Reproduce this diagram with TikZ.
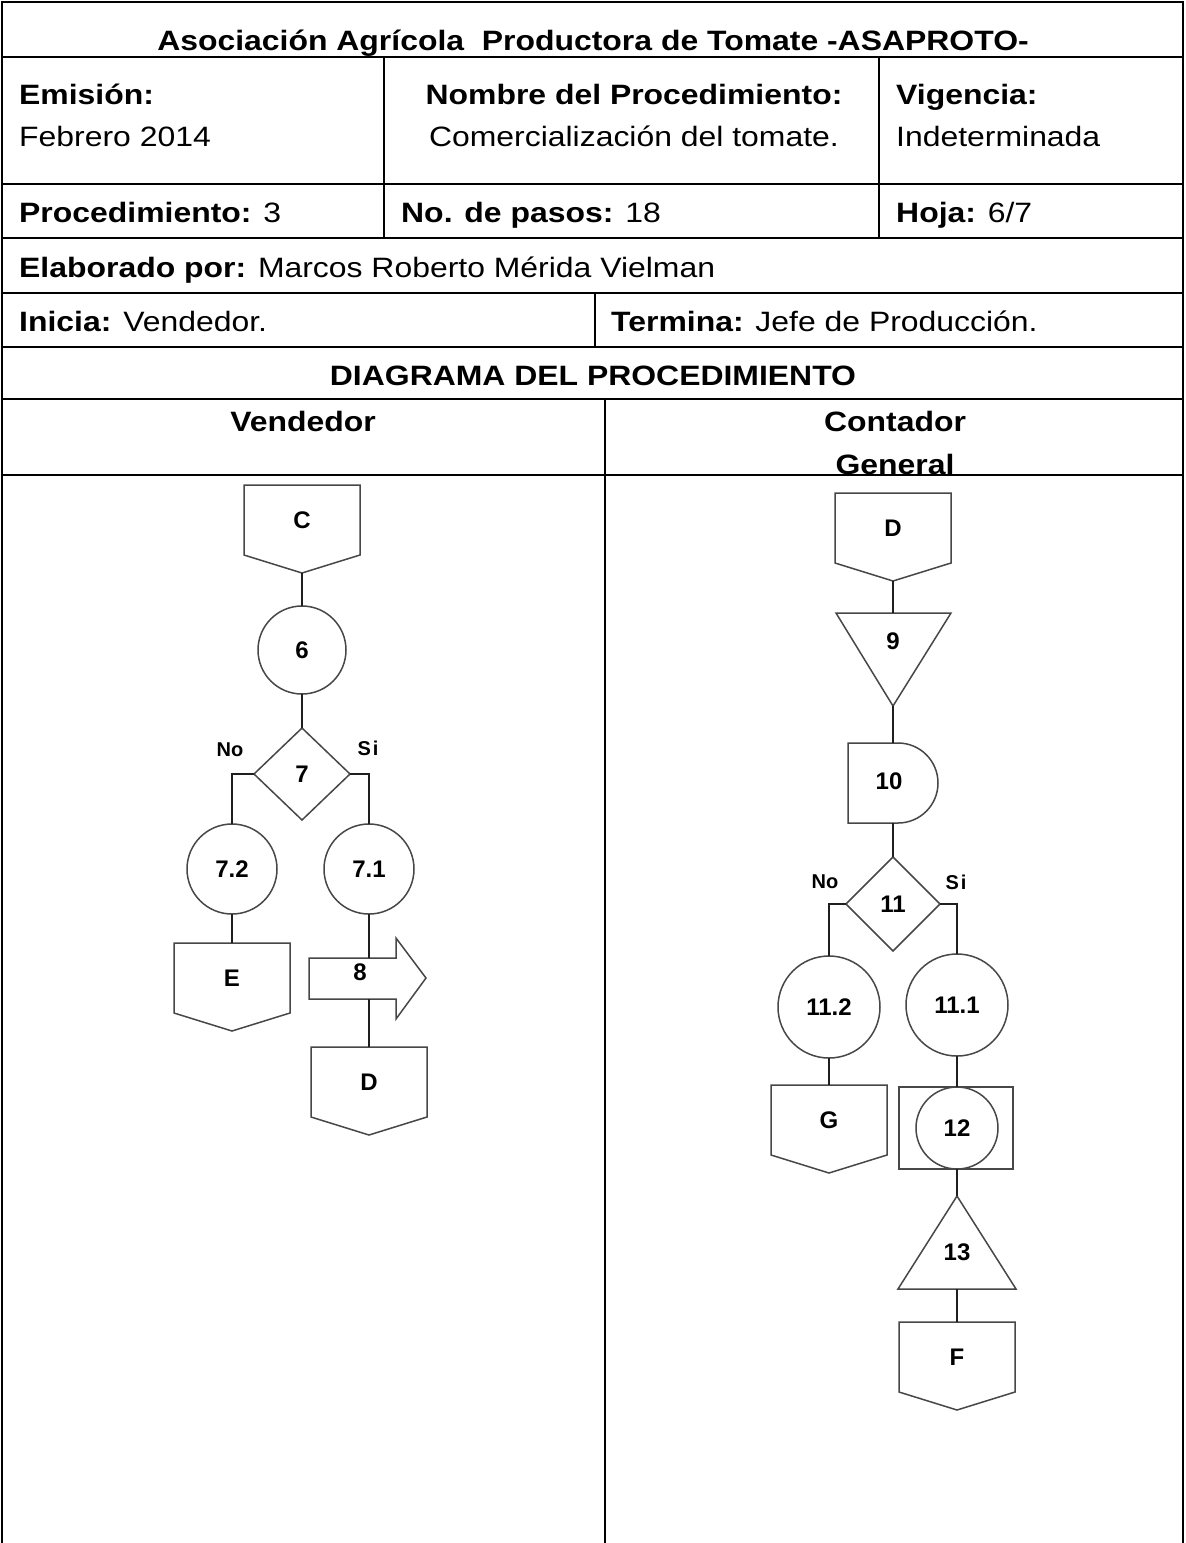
\documentclass[tikz,border=0pt]{standalone}
\usepackage{fontspec}
\setmainfont{Liberation Sans}
\newfontfamily\hdrfont[FakeStretch=1.14]{Liberation Sans}
\usetikzlibrary{shapes.geometric}

% off-page connector: name, x of centre, y of top, text
\newcommand\offpage[4]{%
  \draw[shp] (#2-58,#3) -- (#2+58,#3) -- (#2+58,#3+70) -- (#2,#3+88) -- (#2-58,#3+70) -- cycle;
  \node[lbl] (#1) at (#2,#3+35) {#4};
  \coordinate (#1t) at (#2,#3);
  \coordinate (#1b) at (#2,#3+88);
}

\begin{document}
\begin{tikzpicture}[x=1pt,y=-1pt,
  grid/.style={line width=2.5pt, black},
  thinrule/.style={line width=1.3pt, black},
  hd/.style={inner sep=0pt, font=\hdrfont\fontsize{28}{32}\selectfont},
  shp/.style={draw=black!72, line width=1.5pt},
  con/.style={draw=black!88, line width=1.5pt},
  lbl/.style={inner sep=0pt, font=\bfseries\fontsize{24}{26}\selectfont},
  tag/.style={inner sep=0pt, font=\bfseries\fontsize{20}{22}\selectfont},
  circ/.style={shp, circle, inner sep=0pt, outer sep=0pt, font=\bfseries\fontsize{24}{26}\selectfont},
  dia/.style={shp, diamond, inner sep=0pt, outer sep=0pt, font=\bfseries\fontsize{24}{26}\selectfont},
]
\useasboundingbox (0,0) rectangle (1186,1543);
\fill[white] (0,0) rectangle (1186,1543);

% ---------- form grid ----------
\draw[grid] (2,1543) -- (2,2) -- (1183,2) -- (1183,1543);
\draw[grid] (2,57) -- (1183,57);
\draw[grid] (2,184) -- (1183,184);
\draw[grid] (2,238) -- (1183,238);
\draw[grid] (2,293) -- (1183,293);
\draw[grid] (2,347) -- (1183,347);
\draw[grid] (2,399) -- (1183,399);
\draw[grid] (384,57) -- (384,238);
\draw[grid] (879,57) -- (879,238);
\draw[grid] (595,293) -- (595,347);
\draw[grid] (605,399) -- (605,1543);
\draw[grid] (2,475) -- (142,475);
\draw[thinrule] (142,475) -- (386,475);
\draw[grid] (386,475) -- (723,475);
\draw[thinrule] (723,475) -- (990,475);
\draw[grid] (990,475) -- (1183,475);

% ---------- form texts ----------
\node[hd, anchor=base] (title) at (593,50) {\bfseries Asociación Agrícola\ \ Productora de Tomate -ASAPROTO-};
\node[hd, anchor=base west] (emi) at (19,104) {\bfseries Emisión:};
\node[hd, anchor=base west] (emiv) at (19,146) {Febrero 2014};
\node[hd, anchor=base] (nom) at (634,104) {\bfseries Nombre del Procedimiento:};
\node[hd, anchor=base] (nomv) at (634,146) {Comercialización del tomate.};
\node[hd, anchor=base west] (vig) at (896,104) {\bfseries Vigencia:};
\node[hd, anchor=base west] (vigv) at (896,146) {Indeterminada};
\node[hd, anchor=base west] (proc) at (19,222) {\textbf{Procedimiento:} 3};
\node[hd, anchor=base west] (pasos) at (401,222) {\textbf{No. de pasos:} 18};
\node[hd, anchor=base west] (hoja) at (896,222) {\textbf{Hoja:} 6/7};
\node[hd, anchor=base west] (elab) at (19,277) {\textbf{Elaborado por:} Marcos Roberto Mérida Vielman};
\node[hd, anchor=base west] (ini) at (19,331) {\textbf{Inicia:} Vendedor.};
\node[hd, anchor=base west] (ter) at (611,331) {\textbf{Termina:} Jefe de Producción.};
\node[hd, anchor=base] (diag) at (593,385) {\bfseries DIAGRAMA DEL PROCEDIMIENTO};
\node[hd, anchor=base] (ven) at (303,431) {\bfseries Vendedor};
\node[hd, anchor=base] (cont) at (895,431) {\bfseries Contador};
\node[hd, anchor=base] (gen) at (895,474) {\bfseries General};

% ---------- Vendedor lane ----------
\offpage{opC}{302}{485}{C}
\node[circ, minimum size=88pt] (s6) at (302,650) {6};
\node[dia, minimum width=96pt, minimum height=92pt] (d7) at (302,774) {7};
\node[tag] (no7) at (230,750) {No};
\node[tag] (si7) at (368,748) {S\kern2pt i};
\node[circ, minimum size=90pt] (s72) at (232,869) {7.2};
\node[circ, minimum size=90pt] (s71) at (369,869) {7.1};
\offpage{opE}{232}{943}{E}
% transport arrow 8
\draw[shp] (309,958) -- (396,958) -- (396,938) -- (426,978) -- (396,1019) -- (396,999) -- (309,999) -- cycle;
\node[lbl] (s8) at (360,972) {8};
\coordinate (s8t) at (369,958);
\coordinate (s8b) at (369,999);
\offpage{opD}{369}{1047}{D}

\draw[con] (opCb) -- (s6.north);
\draw[con] (s6.south) -- (d7.north);
\draw[con] (d7.west) -| (s72.north);
\draw[con] (d7.east) -| (s71.north);
\draw[con] (s72.south) -- (opEt);
\draw[con] (s71.south) -- (s8t);
\draw[con] (s8b) -- (opDt);

% ---------- Contador General lane ----------
\offpage{opD2}{893}{493}{D}
% storage triangle 9
\draw[shp] (836,613) -- (951,613) -- (893,706) -- cycle;
\node[lbl] (s9) at (893,641) {9};
\coordinate (s9t) at (893,613);
\coordinate (s9b) at (893,706);
% delay 10
\draw[shp] (898,743) -- (848,743) -- (848,823) -- (898,823) arc[start angle=90, end angle=-90, radius=40] -- cycle;
\node[lbl] (s10) at (889,781) {10};
\coordinate (s10t) at (893,743);
\coordinate (s10b) at (893,823);
\node[dia, minimum width=94pt, minimum height=94pt] (d11) at (893,904) {11};
\node[tag] (no11) at (825,882) {No};
\node[tag] (si11) at (956,882) {S\kern2pt i};
\node[circ, minimum size=102pt] (s112) at (829,1007) {11.2};
\node[circ, minimum size=102pt] (s111) at (957,1005) {11.1};
\offpage{opG}{829}{1085}{G}
% combined operation 12
\draw[shp] (899,1087) rectangle (1013,1169);
\node[circ, minimum size=82pt] (s12) at (957,1128) {12};
\coordinate (s12t) at (957,1087);
\coordinate (s12b) at (957,1169);
% archive triangle 13
\draw[shp] (957,1196) -- (1016,1289) -- (898,1289) -- cycle;
\node[lbl] (s13) at (957,1252) {13};
\coordinate (s13t) at (957,1196);
\coordinate (s13b) at (957,1289);
\offpage{opF}{957}{1322}{F}

\draw[con] (opD2b) -- (s9t);
\draw[con] (s9b) -- (s10t);
\draw[con] (s10b) -- (d11.north);
\draw[con] (d11.west) -| (s112.north);
\draw[con] (d11.east) -| (s111.north);
\draw[con] (s112.south) -- (opGt);
\draw[con] (s111.south) -- (s12t);
\draw[con] (s12b) -- (s13t);
\draw[con] (s13b) -- (opFt);
\end{tikzpicture}
\end{document}
